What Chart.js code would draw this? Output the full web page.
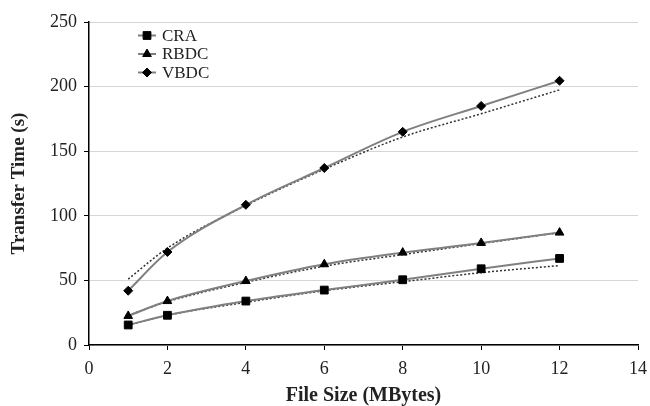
<!DOCTYPE html>
<html>
<head>
<meta charset="utf-8">
<script src="https://cdn.jsdelivr.net/npm/chart.js@4/dist/chart.umd.min.js"></script>
<style>
  html, body { margin: 0; padding: 0; background: #fff; }
  #wrap { width: 650px; height: 406px; }
</style>
</head>
<body>
<div id="wrap"><canvas id="transfer-chart" width="650" height="406"></canvas></div>
<script>
const fileSizes = [1, 2, 4, 6, 8, 10, 12];

const craTimes = [15.5, 23, 34, 42.5, 50.5, 59, 67];
const rbdcTimes = [22.5, 34, 49.5, 62.5, 71.5, 79, 87];
const vbdcTimes = [42, 72, 108.5, 137, 165, 185, 204.5];

// fitted trend curves (dotted)
const craTrend = [15.5, 23, 33, 42, 49, 56, 61.5];
const rbdcTrend = [23, 33.5, 48.5, 61, 70, 78.5, 87];
const vbdcTrend = [51, 75, 108, 136, 161, 179, 197.5];

const xTicks = [0, 2, 4, 6, 8, 10, 12, 14];
const yTicks = [0, 50, 100, 150, 200, 250];

const serif = "'Liberation Serif', 'DejaVu Serif', serif";

function points(ys) {
  return fileSizes.map((x, i) => ({ x: x, y: ys[i] }));
}

function measured(label, ys, style, radius) {
  return {
    label: label,
    data: points(ys),
    showLine: true,
    borderColor: "#808080",
    borderWidth: 2,
    cubicInterpolationMode: "monotone",
    pointStyle: style,
    pointRadius: radius,
    pointBackgroundColor: "#000",
    pointBorderColor: "#000",
    pointBorderWidth: 1,
    order: 1,
  };
}

function trend(ys) {
  return {
    label: "",
    data: points(ys),
    showLine: true,
    borderColor: "#333",
    borderWidth: 1.5,
    borderDash: [2, 2],
    cubicInterpolationMode: "monotone",
    pointRadius: 0,
    order: 2,
  };
}

// legend drawn inside the plot area, top left
const innerLegend = {
  id: "innerLegend",
  afterDraw(chart) {
    const ctx = chart.ctx;
    const rows = chart.data.datasets.filter((d) => d.label);
    ctx.save();
    rows.forEach((d, i) => {
      const y = 35.5 + i * 18.5;
      ctx.strokeStyle = "#808080";
      ctx.lineWidth = 2;
      ctx.beginPath();
      ctx.moveTo(138, y);
      ctx.lineTo(156, y);
      ctx.stroke();
      ctx.fillStyle = "#000";
      ctx.strokeStyle = "#000";
      ctx.lineWidth = 1;
      Chart.helpers.drawPoint(ctx, { pointStyle: d.pointStyle, radius: d.pointRadius, rotation: 0, borderWidth: 1 }, 147, y);
      ctx.fillStyle = "#222";
      ctx.font = "17px " + serif;
      ctx.textAlign = "left";
      ctx.textBaseline = "middle";
      ctx.fillText(d.label, 162, y + 1);
    });
    ctx.restore();
  },
};

const ctx = document.getElementById("transfer-chart").getContext("2d");
const transferChart = new Chart(ctx, {
  type: "scatter",
  data: {
    datasets: [
      measured("CRA", craTimes, "rect", 5.5),
      measured("RBDC", rbdcTimes, "triangle", 5),
      measured("VBDC", vbdcTimes, "rectRot", 4.5),
      trend(craTrend),
      trend(rbdcTrend),
      trend(vbdcTrend),
    ],
  },
  options: {
    responsive: false,
    animation: false,
    layout: { padding: { top: 22, right: 12, left: 0, bottom: 0 } },
    plugins: {
      legend: { display: false },
      tooltip: { enabled: false },
    },
    scales: {
      x: {
        type: "linear",
        min: 0,
        max: 14,
        afterBuildTicks: (scale) => {
          scale.ticks = xTicks.map((v) => ({ value: v }));
        },
        afterFit: (scale) => {
          scale.height = 61;
          scale.paddingLeft = 0;
          scale.paddingRight = 0;
        },
        grid: {
          drawOnChartArea: false,
          drawTicks: true,
          tickLength: 5,
          tickColor: "#000",
        },
        border: { color: "#000", width: 1.5 },
        ticks: {
          color: "#222",
          padding: 8,
          font: { family: serif, size: 18 },
        },
        title: {
          display: true,
          text: "File Size (MBytes)",
          color: "#222",
          padding: { top: 0, bottom: 0 },
          font: { family: serif, size: 20, weight: "bold", lineHeight: 1 },
        },
      },
      y: {
        min: 0,
        max: 250,
        afterBuildTicks: (scale) => {
          scale.ticks = yTicks.map((v) => ({ value: v }));
        },
        afterFit: (scale) => {
          scale.width = 89;
          scale.paddingTop = 0;
          scale.paddingBottom = 0;
        },
        grid: {
          color: "#d6d6d6",
          lineWidth: 1,
          drawTicks: true,
          tickLength: 5,
          tickColor: "#000",
        },
        border: { color: "#000", width: 1.5 },
        ticks: {
          color: "#222",
          padding: 7,
          font: { family: serif, size: 18 },
        },
        title: {
          display: true,
          text: "Transfer Time (s)",
          color: "#222",
          padding: { top: 8, bottom: 0 },
          font: { family: serif, size: 19, weight: "bold" },
        },
      },
    },
  },
  plugins: [innerLegend],
});
</script>
</body>
</html>
